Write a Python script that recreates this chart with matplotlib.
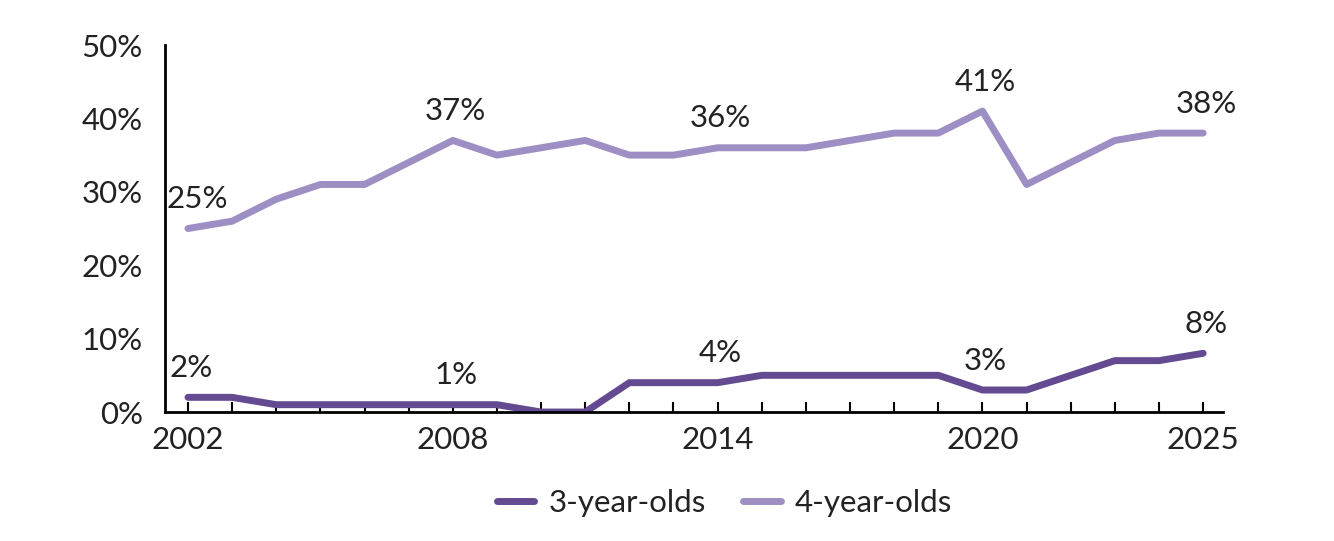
import matplotlib.pyplot as plt
from matplotlib.ticker import FuncFormatter

years = list(range(2002, 2026))
three_year_olds = [2, 2, 1, 1, 1, 1, 1, 1, 0, 0, 4, 4, 4, 5, 5, 5, 5, 5, 3, 3, 5, 7, 7, 8]
four_year_olds = [25, 26, 29, 31, 31, 34, 37, 35, 36, 37, 35, 35, 36, 36, 36, 37, 38, 38, 41, 31, 34, 37, 38, 38]
label_years = [2002, 2008, 2014, 2020, 2025]

dark = "#634a91"
light = "#9d8ec3"
text_color = "#222222"

plt.rcParams["font.family"] = ["Lato", "DejaVu Sans"]
plt.rcParams["font.size"] = 22.5

fig = plt.figure(figsize=(13.34, 5.41), dpi=100)
ax = fig.add_axes([0.1237, 0.2384, 0.9168 - 0.1237, 0.9168 - 0.2384])

ax.plot(years, three_year_olds, color=dark, lw=5, solid_capstyle="round",
        solid_joinstyle="round", label="3-year-olds")
ax.plot(years, four_year_olds, color=light, lw=5, solid_capstyle="round",
        solid_joinstyle="round", label="4-year-olds")

for series in (three_year_olds, four_year_olds):
    for yr in label_years:
        v = series[years.index(yr)]
        dx = 7 if (yr == 2002 and v > 10) else 2
        ax.annotate("{}%".format(v), (yr, v), xytext=(dx, 11), textcoords="offset points",
                    ha="center", va="bottom", color=text_color)

ax.set_xlim(2001.48, 2025.45)
ax.set_ylim(0, 50)
ax.set_yticks(range(0, 51, 10))
ax.yaxis.set_major_formatter(FuncFormatter(lambda v, p: "{:.0f}%".format(v)))
ax.set_xticks(years)
ax.set_xticklabels([str(y) if y in label_years else "" for y in years])

for s in ("top", "right"):
    ax.spines[s].set_visible(False)
for s in ("left", "bottom"):
    ax.spines[s].set_linewidth(2)
    ax.spines[s].set_color("black")

ax.tick_params(axis="y", length=0, pad=16, labelcolor=text_color)
ax.tick_params(axis="x", direction="in", length=7, width=1.5, pad=10,
               labelcolor=text_color)

fig.legend(loc="center", bbox_to_anchor=(0.543, 0.07), ncol=2, frameon=False,
           handlelength=1.2, handletextpad=0.45, columnspacing=1.2,
           labelcolor=text_color)

fig.savefig("out.png", dpi=100)
